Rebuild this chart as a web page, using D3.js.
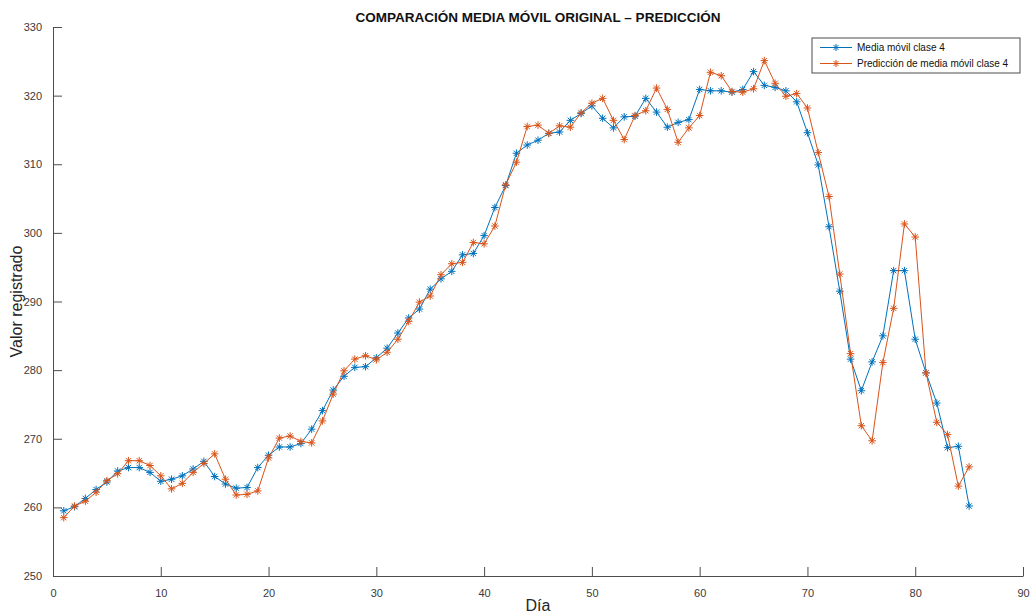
<!DOCTYPE html>
<html>
<head>
<meta charset="utf-8">
<script src="https://cdn.jsdelivr.net/npm/d3@7"></script>
<style>
  html, body { margin: 0; padding: 0; background: #fff; }
  svg { display: block; font-family: "Liberation Sans", Arial, sans-serif; }
</style>
</head>
<body>
<svg id="chart" width="1034" height="615"></svg>
<script>
// Day index (1..85)
const days = d3.range(1, 86);

// Original moving average, class 4
const mediaMovil = [
  259.5, 260.1, 261.3, 262.6, 263.7, 265.3, 265.8, 265.8, 265.1, 263.8,
  264.1, 264.6, 265.6, 266.7, 264.5, 263.4, 262.8, 262.9, 265.8, 267.6,
  268.8, 268.8, 269.3, 271.4, 274.1, 277.1, 279.1, 280.4, 280.5, 281.8,
  283.2, 285.4, 287.6, 288.9, 291.8, 293.3, 294.4, 296.8, 297.0, 299.6,
  303.7, 306.9, 311.6, 312.8, 313.5, 314.5, 314.7, 316.4, 317.4, 318.5,
  316.7, 315.3, 316.9, 317.0, 319.6, 317.6, 315.4, 316.1, 316.5, 320.9,
  320.7, 320.7, 320.5, 320.9, 323.5, 321.5, 321.2, 320.7, 319.1, 314.6,
  309.9, 300.9, 291.5, 281.6, 277.0, 281.2, 285.0, 294.5, 294.5, 284.5,
  279.6, 275.2, 268.7, 268.9, 260.2
];

// Predicted moving average, class 4
const prediccion = [
  258.5, 260.2, 260.9, 262.2, 263.9, 264.9, 266.8, 266.8, 266.1, 264.6,
  262.7, 263.5, 265.1, 266.4, 267.8, 264.1, 261.8, 261.9, 262.4, 267.2,
  270.1, 270.4, 269.6, 269.4, 272.6, 276.5, 279.9, 281.6, 282.1, 281.5,
  282.6, 284.5, 287.1, 289.9, 290.8, 293.9, 295.5, 295.7, 298.6, 298.4,
  301.0, 307.0, 310.3, 315.5, 315.7, 314.5, 315.6, 315.4, 317.5, 318.9,
  319.6, 316.4, 313.6, 317.1, 317.8, 321.1, 318.0, 313.2, 315.3, 317.1,
  323.4, 322.9, 320.6, 320.5, 321.0, 325.1, 321.8, 319.9, 320.3, 318.2,
  311.7, 305.3, 294.0, 282.4, 271.9, 269.7, 281.1, 289.0, 301.3, 299.4,
  279.6, 272.4, 270.6, 263.1, 265.9
];

const xTicks = [0, 10, 20, 30, 40, 50, 60, 70, 80, 90];
const yTicks = [250, 260, 270, 280, 290, 300, 310, 320, 330];

const seriesNames = ["Media móvil clase 4", "Predicción de media móvil clase 4"];
const seriesColors = ["#0072BD", "#D95319"];

const svg = d3.select("#chart");
const margin = { left: 53, right: 11, top: 27, bottom: 39 };
const W = 1034, H = 615;

const x = d3.scaleLinear().domain([0, 90]).range([margin.left, W - margin.right]);
const y = d3.scaleLinear().domain([250, 330]).range([H - margin.bottom, margin.top]);

const axisColor = "#4d4d4d";

// Axes with inward ticks
const xAxis = svg.append("g")
  .attr("transform", `translate(0,${y(250)})`)
  .call(d3.axisBottom(x).tickValues(xTicks).tickSizeInner(-9).tickSizeOuter(0).tickPadding(13));
const yAxis = svg.append("g")
  .attr("transform", `translate(${x(0)},0)`)
  .call(d3.axisLeft(y).tickValues(yTicks).tickSizeInner(-9).tickSizeOuter(0).tickPadding(14));

[xAxis, yAxis].forEach(g => {
  g.select(".domain").attr("stroke", axisColor).attr("stroke-width", 1);
  g.selectAll(".tick line").attr("stroke", axisColor).attr("stroke-width", 1);
  g.selectAll(".tick text")
    .attr("fill", "#3a3a3a")
    .style("font-size", "11px")
    .style("font-family", "'Liberation Sans', Arial, sans-serif");
});
yAxis.selectAll(".tick text").attr("dx", "3");

// Title
svg.append("text")
  .attr("x", 538).attr("y", 22)
  .attr("text-anchor", "middle")
  .style("font-size", "13.5px").style("font-weight", "bold")
  .attr("fill", "#111")
  .text("COMPARACIÓN MEDIA MÓVIL ORIGINAL – PREDICCIÓN");

// Axis labels
svg.append("text")
  .attr("x", 538).attr("y", 611)
  .attr("text-anchor", "middle")
  .style("font-size", "16px")
  .attr("fill", "#262626")
  .text("Día");

svg.append("text")
  .attr("transform", `translate(22,${y(290)}) rotate(-90)`)
  .attr("text-anchor", "middle")
  .style("font-size", "16px")
  .attr("fill", "#262626")
  .text("Valor registrado");

// Asterisk marker path (+ and x combined)
function asterisk(r) {
  const d = r * Math.SQRT1_2;
  return `M${-r},0L${r},0M0,${-r}L0,${r}M${-d},${-d}L${d},${d}M${-d},${d}L${d},${-d}`;
}

const series = [mediaMovil, prediccion];
const line = d3.line().x((d, i) => x(days[i])).y(d => y(d));

// Blue series first, orange drawn on top
series.forEach((vals, si) => {
  const g = svg.append("g");
  g.append("path")
    .datum(vals)
    .attr("fill", "none")
    .attr("stroke", seriesColors[si])
    .attr("stroke-width", 1)
    .attr("d", line);
  g.selectAll("path.mk")
    .data(vals)
    .join("path")
    .attr("class", "mk")
    .attr("transform", (d, i) => `translate(${x(days[i])},${y(d)})`)
    .attr("d", asterisk(3.8))
    .attr("stroke", seriesColors[si])
    .attr("stroke-width", 1)
    .attr("fill", "none");
});

// Legend
const lg = svg.append("g").attr("transform", "translate(812,38)");
lg.append("rect")
  .attr("width", 208).attr("height", 35)
  .attr("fill", "#fff").attr("stroke", "#4d4d4d").attr("stroke-width", 1);
seriesNames.forEach((name, i) => {
  const row = lg.append("g").attr("transform", `translate(0,${9.5 + i * 16})`);
  row.append("line").attr("x1", 8).attr("x2", 40).attr("y1", 0).attr("y2", 0)
    .attr("stroke", seriesColors[i]).attr("stroke-width", 1);
  row.append("path").attr("transform", "translate(24,0)").attr("d", asterisk(3.5))
    .attr("stroke", seriesColors[i]).attr("fill", "none");
  row.append("text").attr("x", 45).attr("y", 0).attr("dy", "0.35em")
    .style("font-size", "10px").attr("fill", "#111").text(name);
});
</script>
</body>
</html>
